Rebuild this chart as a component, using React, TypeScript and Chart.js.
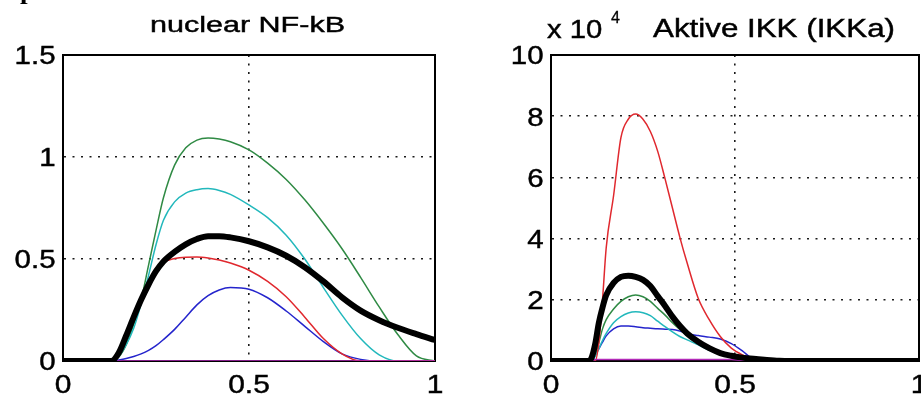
import React, { useEffect, useRef } from 'react';
import { Chart, registerables } from 'chart.js';

Chart.register(...registerables);

// ---------- shared ----------
const X_TICKS = [0, 0.5, 1];

// ---------- left panel: nuclear NF-kB ----------
const NFKB_TITLE = 'nuclear NF-kB';
const NFKB_Y_TICKS = [0, 0.5, 1, 1.5];
const nfkbTime = [0, 0.1, 0.13, 0.15, 0.17, 0.19, 0.21, 0.23, 0.25, 0.27, 0.3, 0.33, 0.36, 0.39, 0.42, 0.45, 0.5, 0.55, 0.6, 0.65, 0.7, 0.75, 0.8, 0.85, 0.9, 0.95, 1.0];
const nfkbMean = [0, 0, 0, 0.04, 0.125, 0.215, 0.3, 0.375, 0.44, 0.488, 0.535, 0.572, 0.598, 0.612, 0.612, 0.606, 0.587, 0.557, 0.516, 0.46, 0.39, 0.312, 0.247, 0.2, 0.163, 0.132, 0.103];
const nfkbGreen = [0, 0, 0, 0.02, 0.08, 0.18, 0.3, 0.47, 0.64, 0.8, 0.96, 1.045, 1.083, 1.093, 1.088, 1.075, 1.035, 0.97, 0.89, 0.79, 0.675, 0.55, 0.41, 0.265, 0.13, 0.025, 0];
const nfkbCyan = [0, 0, 0, 0.025, 0.08, 0.16, 0.28, 0.42, 0.57, 0.69, 0.78, 0.823, 0.84, 0.845, 0.836, 0.817, 0.765, 0.703, 0.617, 0.5, 0.36, 0.225, 0.11, 0.03, 0, 0, 0];
const nfkbRed = [0, 0, 0, 0.04, 0.12, 0.21, 0.3, 0.38, 0.44, 0.482, 0.502, 0.509, 0.51, 0.505, 0.495, 0.48, 0.445, 0.39, 0.315, 0.215, 0.11, 0.035, 0, 0, 0, 0, 0];
const nfkbBlue = [0, 0, 0, 0.005, 0.012, 0.022, 0.035, 0.052, 0.075, 0.105, 0.155, 0.215, 0.275, 0.32, 0.348, 0.36, 0.352, 0.31, 0.245, 0.17, 0.095, 0.035, 0.008, 0, 0, 0, 0];
const nfkbMagenta = [0, 0, 0, 0, 0, 0, 0, 0, 0, 0, 0, 0, 0, 0, 0, 0, 0, 0, 0, 0, 0, 0, 0, 0, 0, 0, 0];

// ---------- right panel: Aktive IKK (values in units of 10^4) ----------
const IKK_TITLE = 'Aktive IKK (IKKa)';
const IKK_EXPONENT = '4';
const IKK_Y_TICKS = [0, 2, 4, 6, 8, 10];
const ikkTime = [0, 0.08, 0.1, 0.11, 0.12, 0.13, 0.14, 0.15, 0.17, 0.19, 0.21, 0.23, 0.25, 0.27, 0.29, 0.31, 0.33, 0.35, 0.37, 0.4, 0.43, 0.46, 0.49, 0.52, 0.55, 0.58, 0.62, 0.7, 0.85, 1.0];
const ikkMean = [0, 0, 0, 0.1, 0.55, 1.25, 1.75, 2.15, 2.55, 2.75, 2.79, 2.75, 2.65, 2.45, 2.12, 1.8, 1.45, 1.15, 0.9, 0.63, 0.42, 0.26, 0.17, 0.11, 0.07, 0.04, 0.01, 0, 0, 0];
const ikkRed = [0, 0, 0, 0, 0, 0.6, 2.0, 3.7, 5.4, 7.3, 7.9, 8.07, 7.9, 7.5, 6.85, 5.95, 5.0, 4.05, 3.2, 2.05, 1.35, 0.8, 0.42, 0.2, 0.06, 0, 0, 0, 0, 0];
const ikkGreen = [0, 0, 0, 0, 0.2, 0.6, 1.05, 1.35, 1.7, 1.95, 2.1, 2.16, 2.1, 1.95, 1.72, 1.5, 1.25, 1.03, 0.84, 0.6, 0.4, 0.25, 0.14, 0.06, 0.02, 0, 0, 0, 0, 0];
const ikkCyan = [0, 0, 0, 0, 0.15, 0.4, 0.67, 0.9, 1.25, 1.45, 1.57, 1.61, 1.58, 1.48, 1.3, 1.12, 0.95, 0.8, 0.69, 0.53, 0.35, 0.22, 0.14, 0.07, 0.02, 0, 0, 0, 0, 0];
const ikkBlue = [0, 0, 0, 0.05, 0.2, 0.4, 0.62, 0.82, 1.05, 1.14, 1.14, 1.12, 1.09, 1.07, 1.05, 1.04, 1.03, 0.98, 0.9, 0.83, 0.78, 0.72, 0.57, 0.33, 0.05, 0, 0, 0, 0, 0];
const ikkMagenta = [0, 0, 0, 0, 0.05, 0.05, 0.05, 0.05, 0.05, 0.05, 0.05, 0.05, 0.05, 0.05, 0.05, 0.05, 0.05, 0.05, 0.05, 0.05, 0.05, 0.05, 0.05, 0.02, 0, 0, 0, 0, 0, 0];

// ---------- styles ----------
const COLORS = {
  black: '#000000',
  magenta: '#b22ab8',
  red: '#e0282e',
  cyan: '#22b8bc',
  green: '#2f8a44',
  blue: '#2424cc',
};
const FONT = '"Liberation Sans", Arial, Helvetica, sans-serif';
const TICK_SIZE = 25.6;

function drawText(ctx: CanvasRenderingContext2D, text: string, x: number, y: number, size: number, align: 'left' | 'center' | 'right', sx: number, family = FONT, weight = 'normal', stroke = 0.45) {
  ctx.save();
  ctx.font = `${weight} ${size}px ${family}`;
  const w = ctx.measureText(text).width * sx;
  const left = align === 'right' ? x - w : align === 'center' ? x - w / 2 : x;
  ctx.translate(left, y);
  ctx.scale(sx, 1);
  ctx.textAlign = 'left';
  ctx.textBaseline = 'alphabetic';
  ctx.fillStyle = '#000';
  ctx.fillText(text, 0, 0);
  if (stroke > 0) {
    ctx.strokeStyle = '#000';
    ctx.lineWidth = stroke;
    ctx.strokeText(text, 0, 0);
  }
  ctx.restore();
}

function drawFitted(ctx: CanvasRenderingContext2D, text: string, cx: number, y: number, size: number, width: number) {
  ctx.save();
  ctx.font = `normal ${size}px ${FONT}`;
  const sx = width / ctx.measureText(text).width;
  ctx.restore();
  drawText(ctx, text, cx, y, size, 'center', sx);
}

type Series = { values: number[]; color: string; width: number };

function buildConfig(opts: {
  time: number[];
  series: Series[];
  yTicks: number[];
  area: { left: number; right: number; top: number; bottom: number };
  canvasW: number;
  canvasH: number;
  extra: (ctx: CanvasRenderingContext2D, chart: any) => void;
}) {
  const { time, series, yTicks, area, canvasW, canvasH, extra } = opts;
  const gridDash = [2, 6.5];
  const plugin = {
    id: 'matlabAxes',
    beforeDatasetsDraw(chart: any) {
      const { ctx, chartArea: a } = chart;
      ctx.save();
      ctx.strokeStyle = '#000';
      ctx.lineWidth = 2;
      ctx.strokeRect(a.left, a.top, a.right - a.left, a.bottom - a.top);
      ctx.restore();
    },
    afterDraw(chart: any) {
      const { ctx, chartArea: a } = chart;
      const xs = chart.scales.x;
      const ys = chart.scales.y;
      xs.ticks.forEach((t: any) => {
        drawText(ctx, String(t.value), xs.getPixelForValue(t.value), a.bottom + 31.5, TICK_SIZE, 'center', 1.17);
      });
      ys.ticks.forEach((t: any) => {
        drawText(ctx, String(t.value), a.left - 7.5, ys.getPixelForValue(t.value) + 9.3, TICK_SIZE, 'right', 1.15);
      });
      extra(ctx, chart);
    },
  };
  return {
    type: 'line' as const,
    data: {
      datasets: series.map((s) => ({
        data: time.map((t, i) => ({ x: t, y: s.values[i] })),
        borderColor: s.color,
        backgroundColor: s.color,
        borderWidth: s.width,
        pointRadius: 0,
        fill: false,
        cubicInterpolationMode: 'monotone' as const,
        borderCapStyle: 'round' as const,
        borderJoinStyle: 'round' as const,
      })),
    },
    options: {
      animation: false as const,
      responsive: false,
      maintainAspectRatio: false,
      devicePixelRatio: 1,
      events: [],
      layout: { padding: { left: 0, top: area.top, right: canvasW - area.right, bottom: 0 } },
      plugins: { legend: { display: false }, tooltip: { enabled: false }, title: { display: false } },
      scales: {
        x: {
          type: 'linear' as const,
          min: 0,
          max: 1,
          afterBuildTicks: (s: any) => {
            s.ticks = X_TICKS.map((v) => ({ value: v }));
          },
          afterFit: (s: any) => {
            s.height = canvasH - area.bottom;
            s.paddingLeft = 0;
            s.paddingRight = 0;
          },
          ticks: { display: false },
          grid: { color: '#1a1a1a', lineWidth: 1.6, drawTicks: false, borderDash: gridDash },
          border: { display: true, color: '#000', width: 2, dash: gridDash },
        },
        y: {
          type: 'linear' as const,
          min: yTicks[0],
          max: yTicks[yTicks.length - 1],
          afterBuildTicks: (s: any) => {
            s.ticks = yTicks.map((v) => ({ value: v }));
          },
          afterFit: (s: any) => {
            s.width = area.left;
            s.paddingTop = 0;
            s.paddingBottom = 0;
          },
          ticks: { display: false },
          grid: { color: '#1a1a1a', lineWidth: 1.6, drawTicks: false, borderDash: gridDash },
          border: { display: true, color: '#000', width: 2, dash: gridDash },
        },
      },
    },
    plugins: [plugin],
  };
}

export default function App() {
  const leftRef = useRef<HTMLCanvasElement | null>(null);
  const rightRef = useRef<HTMLCanvasElement | null>(null);

  useEffect(() => {
    const charts: Chart[] = [];
    if (leftRef.current) {
      const cfg = buildConfig({
        time: nfkbTime,
        series: [
          { values: nfkbMean, color: COLORS.black, width: 6 },
          { values: nfkbMagenta, color: COLORS.magenta, width: 1.6 },
          { values: nfkbRed, color: COLORS.red, width: 1.5 },
          { values: nfkbCyan, color: COLORS.cyan, width: 1.5 },
          { values: nfkbGreen, color: COLORS.green, width: 1.5 },
          { values: nfkbBlue, color: COLORS.blue, width: 1.5 },
        ],
        yTicks: NFKB_Y_TICKS,
        area: { left: 63, right: 435, top: 55, bottom: 361 },
        canvasW: 460,
        canvasH: 399,
        extra: (ctx) => {
          drawFitted(ctx, NFKB_TITLE, 247.5, 32, 22, 195);
          drawText(ctx, 'ponse', 20, -1, 26, 'left', 1.05, '"Liberation Serif", "Times New Roman", serif', 'bold', 0);
        },
      });
      charts.push(new Chart(leftRef.current, cfg as any));
    }
    if (rightRef.current) {
      const cfg = buildConfig({
        time: ikkTime,
        series: [
          { values: ikkMean, color: COLORS.black, width: 6 },
          { values: ikkMagenta, color: COLORS.magenta, width: 1.6 },
          { values: ikkRed, color: COLORS.red, width: 1.5 },
          { values: ikkCyan, color: COLORS.cyan, width: 1.5 },
          { values: ikkGreen, color: COLORS.green, width: 1.5 },
          { values: ikkBlue, color: COLORS.blue, width: 1.5 },
        ],
        yTicks: IKK_Y_TICKS,
        area: { left: 91, right: 459, top: 55, bottom: 361 },
        canvasW: 461,
        canvasH: 399,
        extra: (ctx) => {
          drawFitted(ctx, IKK_TITLE, 314, 36.5, 25.6, 242);
          drawText(ctx, 'x 10', 87, 38, 25, 'left', 1.17);
          drawText(ctx, IKK_EXPONENT, 151, 23, 16, 'left', 1.0, FONT, 'normal', 0.3);
        },
      });
      charts.push(new Chart(rightRef.current, cfg as any));
    }
    return () => {
      charts.forEach((c) => c.destroy());
    };
  }, []);

  return (
    <div style={{ position: 'fixed', left: 0, top: 0, width: 921, height: 399, overflow: 'hidden', background: '#fff' }}>
      <canvas ref={leftRef} width={460} height={399} style={{ position: 'absolute', left: 0, top: 0, width: 460, height: 399 }} />
      <canvas ref={rightRef} width={461} height={399} style={{ position: 'absolute', left: 460, top: 0, width: 461, height: 399 }} />
    </div>
  );
}
